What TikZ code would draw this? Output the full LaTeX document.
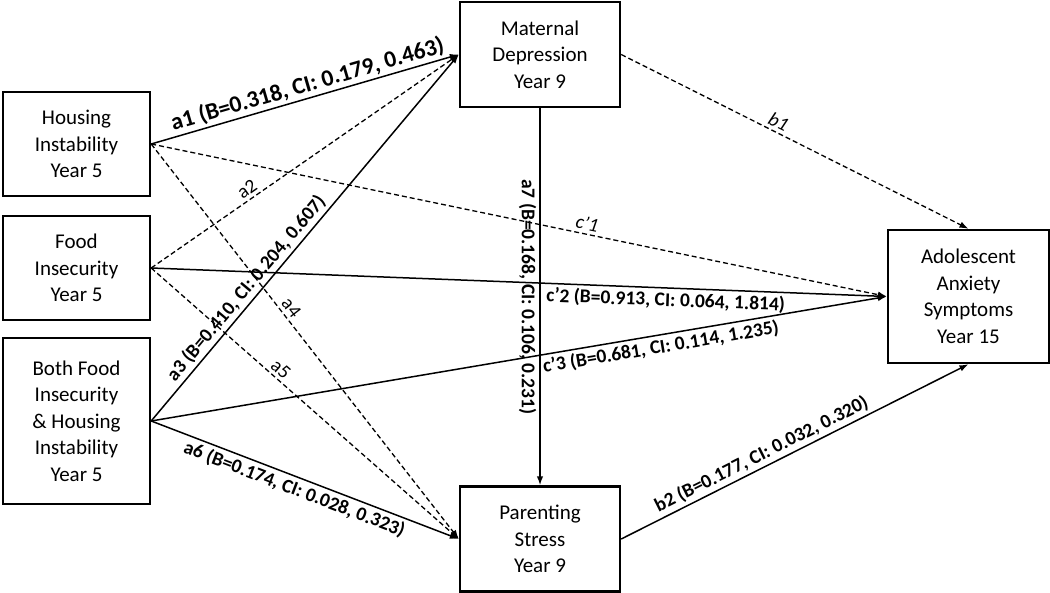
\documentclass[tikz,border=0pt]{standalone}
\usepackage{fontspec}
\setmainfont{Carlito}
\usetikzlibrary{arrows.meta}

\begin{document}
\begin{tikzpicture}[x=1pt, y=-1pt,
    >={Latex[length=9pt,width=6.5pt]},
    box/.style={draw, line width=2.4pt, align=center, inner sep=0pt,
      font=\fontsize{21}{26.5}\selectfont},
    solidline/.style={line width=1.5pt},
    dashline/.style={line width=1.3pt, dash pattern=on 5pt off 3pt},
    lab/.style={font=\fontsize{19.5}{22}\selectfont\bfseries, sloped, inner sep=3pt},
    plain/.style={font=\fontsize{19.5}{22}\selectfont, sloped, inner sep=3pt}]
      \useasboundingbox (0,0) rectangle (1050,593);
      \node[box, minimum width=147pt, minimum height=104pt] (h) at (76.5, 144) {Housing\\Instability\\Year 5};
      \node[box, minimum width=147pt, minimum height=104pt] (f) at (76.5, 268) {Food\\Insecurity\\Year 5};
      \node[box, minimum width=147pt, minimum height=166pt] (fh) at (76.5, 421) {Both Food\\Insecurity\\\& Housing\\Instability\\Year 5};
      \node[box, minimum width=160pt, minimum height=105pt] (m) at (540, 54.5) {Maternal\\Depression\\Year 9};
      \node[box, minimum width=160pt, minimum height=105pt] (p) at (540, 539) {Parenting\\Stress\\Year 9};
      \node[box, minimum width=161pt, minimum height=133pt] (y) at (968.5, 296.5) {Adolescent\\Anxiety\\Symptoms\\Year 15};
      % paths into maternal depression
      \draw [->, solidline] (h.east) to node[lab, above, pos=0.52, font=\fontsize{23.5}{26}\selectfont\bfseries, inner sep=2pt] {a1 (B=0.318, CI: 0.179, 0.463)} (m.west);
      \draw [->, dashline] (f.east) to node[plain, above, pos=0.33] {a2} (m.west);
      \draw [->, solidline] (fh.east) to node[lab, above, pos=0.34] {a3 (B=0.410, CI: 0.204, 0.607)} (m.west);
      % paths into parenting stress
      \draw [->, dashline] (h.east) to node[plain, above, pos=0.43] {a4} (p.west);
      \draw [->, dashline] (f.east) to node[plain, above, pos=0.40] {a5} (p.west);
      \draw [->, solidline] (fh.east) to node[lab, below, pos=0.48] {a6 (B=0.174, CI: 0.028, 0.323)} (p.west);
      \draw [->, solidline] (m) to node[font=\fontsize{19.5}{22}\selectfont\bfseries, rotate=-90, anchor=north, inner sep=3pt] {a7 (B=0.168, CI: 0.106, 0.231)} (p);
      % paths into adolescent anxiety
      \draw [->, dashline] (m.east) to node[plain, above, pos=0.44] {\itshape b1} (y.north);
      \draw [->, solidline] (p.east) to node[lab, above, pos=0.42] {b2 (B=0.177, CI: 0.032, 0.320)} (y.south);
      \draw [->, dashline] (h.east) to node[plain, above, pos=0.59] {\itshape c’1} (y.west);
      \draw [->, solidline] (f.east) to node[lab, below, pos=0.70] {c’2 (B=0.913, CI: 0.064, 1.814)} (y.west);
      \draw [->, solidline] (fh.east) to node[lab, below, pos=0.69] {c’3 (B=0.681, CI: 0.114, 1.235)} (y.west);
\end{tikzpicture}
\end{document}
